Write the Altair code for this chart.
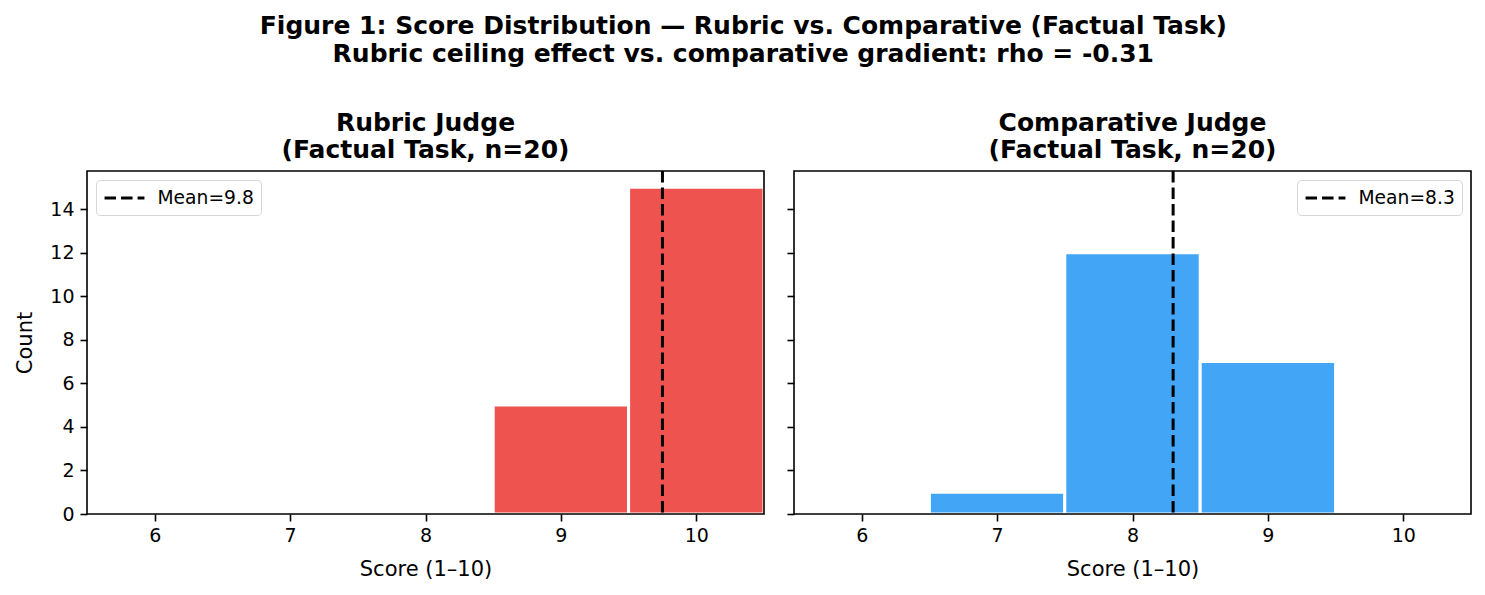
import pandas as pd
import altair as alt

# data
scores = [6, 7, 8, 9, 10]
rubric_counts = [0, 0, 0, 5, 15]
comparative_counts = [0, 1, 12, 7, 0]
rubric_mean = 9.75
comparative_mean = 8.3

FONT = 'DejaVu Sans'
W, H = 677, 343


def panel(counts, mean, color, title, legend_orient, show_y):
    db = pd.DataFrame({'score': scores, 'counts': counts})
    db = db[db['counts'] > 0]
    mean_df = pd.DataFrame({'mean': [mean], 'label': ['Mean=%.1f' % mean]})

    y_axis = alt.Axis(values=list(range(0, 15, 2)), title='Count' if show_y else None,
                      labels=show_y, grid=False, domain=False, tickSize=7, tickWidth=1.6,
                      tickColor='black', labelFontSize=19, titleFontSize=21,
                      labelFont=FONT, titleFont=FONT, titleFontWeight='normal',
                      labelColor='black', titleColor='black', labelPadding=6,
                      titlePadding=14, zindex=1)
    x_axis = alt.Axis(values=scores, format='d', title='Score (1–10)', grid=False,
                      domain=False, tickSize=7, tickWidth=1.6, tickColor='black',
                      labelFontSize=19, titleFontSize=21, labelFont=FONT, titleFont=FONT,
                      titleFontWeight='normal', labelColor='black', titleColor='black',
                      labelPadding=5, titlePadding=13, zindex=1)

    bars = alt.Chart(db).mark_bar(color=color, stroke='white', strokeWidth=3).encode(
        x=alt.X('lo:Q', scale=alt.Scale(domain=[5.5, 10.5], nice=False, zero=False), axis=x_axis),
        x2='hi:Q',
        y=alt.Y('counts:Q', scale=alt.Scale(domain=[0, 15.75], nice=False), axis=y_axis),
        y2=alt.datum(0),
    ).transform_calculate(lo='datum.score - 0.5', hi='datum.score + 0.5')

    # long dashed sample in a short legend row, like matplotlib's handle
    mean_line = alt.Chart(mean_df).mark_rule(strokeWidth=3).encode(
        x='mean:Q',
        strokeDash=alt.StrokeDash('label:N', scale=alt.Scale(range=[[11.5, 5]]),
                                  legend=alt.Legend(title=None, orient=legend_orient,
                                                    symbolType='M-2.1,0H2.1', symbolStrokeColor='black',
                                                    symbolStrokeWidth=3, symbolSize=361,
                                                    symbolOffset=10.5,
                                                    labelFontSize=18.7, labelFont=FONT,
                                                    labelColor='black', labelOffset=22,
                                                    strokeColor='#d6d6d6', fillColor='white',
                                                    padding=7, cornerRadius=4, offset=9)),
        color=alt.value('black'),
    )

    # axes frame (matplotlib spines), drawn above the bars
    frame = alt.Chart(mean_df).mark_rect(filled=False, stroke='black', strokeWidth=1.6).encode(
        x=alt.value(0), x2=alt.value(W), y=alt.value(0), y2=alt.value(H),
    )

    return alt.layer(bars, mean_line, frame).properties(
        width=W, height=H,
        title=alt.TitleParams(text=title, fontSize=25, font=FONT, fontWeight='bold',
                              color='black', lineHeight=27, offset=7),
    )


left = panel(rubric_counts, rubric_mean, '#EF5350',
             ['Rubric Judge', '(Factual Task, n=20)'], 'top-left', True)
right = panel(comparative_counts, comparative_mean, '#42A5F5',
              ['Comparative Judge', '(Factual Task, n=20)'], 'top-right', False)

chart = alt.hconcat(left, right, spacing=20).resolve_scale(strokeDash='independent').properties(
    title=alt.TitleParams(
        text=['Figure 1: Score Distribution — Rubric vs. Comparative (Factual Task)',
              'Rubric ceiling effect vs. comparative gradient: rho = -0.31'],
        fontSize=25, font=FONT, fontWeight='bold', color='black', anchor='middle',
        lineHeight=28, offset=44),
    padding={'left': 6, 'top': 5, 'right': 5, 'bottom': 5},
).configure_view(stroke=None)

chart.save('out.html', embed_options={'renderer': 'svg', 'actions': False})
